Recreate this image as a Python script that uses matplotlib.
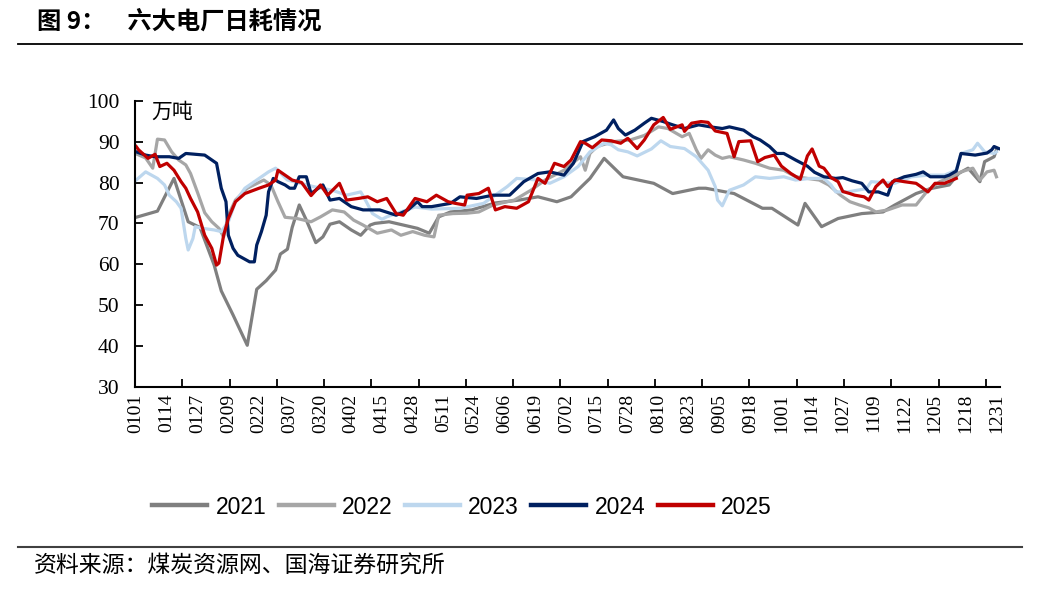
import matplotlib
matplotlib.use('Agg')
import matplotlib.pyplot as plt
from matplotlib.lines import Line2D

plt.rcParams['font.family'] = ['Liberation Serif', 'Noto Sans CJK SC', 'DejaVu Sans']

# ---------------- data (day index from Jan 1, value in 万吨) ----------------
tick_labels = ['0101', '0114', '0127', '0209', '0222', '0307', '0320', '0402', '0415',
               '0428', '0511', '0524', '0606', '0619', '0702', '0715', '0728', '0810',
               '0823', '0905', '0918', '1001', '1014', '1027', '1109', '1122', '1205',
               '1218', '1231']

d2021 = [0, 9, 16, 22, 27, 33, 36, 41, 47, 51, 55, 59, 61, 64, 66, 69, 72, 76, 79, 82,
         86, 91, 95, 99, 101, 107, 113, 119, 124, 128, 133, 142, 152, 162, 170, 178, 184,
         192, 198, 206, 219, 227, 238, 241, 253, 265, 269, 280, 283, 290, 297, 307, 316,
         321, 330, 336, 344, 348, 352, 357, 359, 363, 364]
v2021 = [71.5, 73, 81, 70.4, 69, 59.8, 53.5, 47.6, 40.2, 53.9, 56, 58.6, 62.5, 63.7, 69,
         74.5, 70.8, 65.3, 66.7, 69.8, 70.4, 68.4, 67.1, 69.6, 70, 70.4, 69.6, 68.8, 67.6,
         71.6, 72.8, 73.3, 75, 75.7, 76.5, 75.3, 76.5, 81, 85.9, 81.4, 79.8, 77.3, 78.6,
         78.6, 77.3, 73.7, 73.7, 69.6, 74.9, 69.2, 71.2, 72.4, 72.8, 74.5, 77.3, 78.5,
         79.4, 82.2, 83.5, 80.2, 85.1, 86.3, 88]

d2022 = [0, 4, 7, 9, 12, 15, 18, 21, 23, 26, 29, 32, 35, 37, 39, 42, 47, 54, 57, 60, 63,
         68, 74, 78, 83, 88, 92, 96, 102, 108, 112, 117, 122, 126, 128, 134, 140, 145, 151,
         160, 167, 173, 181, 188, 190, 192, 195, 202, 209, 215, 221, 225, 231, 234, 237,
         239, 242, 245, 248, 251, 257, 262, 268, 274, 279, 284, 289, 293, 298, 302, 306,
         310, 313, 318, 324, 330, 335, 340, 345, 349, 354, 357, 360, 363, 364]
v2022 = [87, 86, 83.5, 90.6, 90.4, 87.5, 85.5, 84.3, 82.2, 77.5, 72.6, 70.4, 68.8, 66.7,
         72, 75.7, 78.6, 80.6, 79.4, 75.3, 71.5, 71.2, 70.4, 71.6, 73.3, 72.8, 70.8, 69.6,
         67.6, 68.4, 67.1, 68, 67.1, 66.7, 72, 72.4, 72.5, 72.8, 74.5, 75.7, 78.1, 80.6,
         83, 86.3, 83, 87.1, 88.8, 90, 90.4, 91.5, 93.6, 93.2, 91.2, 92, 88, 85.9, 88,
         86.7, 85.9, 86.3, 85.5, 84.7, 83.5, 83, 81.4, 81, 80.6, 79.4, 76.9, 75.3, 74.5,
         73.8, 72.8, 73.3, 74.5, 74.5, 78.1, 80.2, 81.4, 82.6, 83.5, 80.6, 82.6, 83, 81.4]

d2023 = [0, 4, 9, 12, 14, 17, 19, 21, 22, 24, 25, 28, 33, 36, 39, 42, 46, 50, 56, 59, 64,
         75, 83, 89, 92, 95, 97, 100, 104, 106, 110, 118, 125, 137, 147, 157, 161, 170,
         175, 181, 187, 192, 198, 201, 204, 208, 212, 218, 222, 226, 232, 237, 242, 245,
         246, 248, 251, 257, 262, 268, 274, 279, 285, 291, 294, 296, 301, 305, 309, 311,
         321, 328, 335, 342, 347, 349, 354, 356, 359, 363, 364]
v2023 = [80.6, 82.6, 81, 79.4, 76.9, 75.3, 73.7, 66.3, 63.5, 66.3, 69.2, 68.8, 68.4, 68,
         70.4, 75.3, 78.6, 80.2, 82.6, 83.5, 80.6, 79, 78.1, 76.9, 77.3, 77.7, 75.7, 72.4,
         71, 71.6, 72.4, 74, 73.5, 73.7, 74.9, 79, 81, 80.6, 79.8, 81.4, 83.9, 87.5, 89.6,
         89.2, 88, 87.5, 86.5, 88.2, 90.2, 88.8, 88.3, 86.3, 83, 79, 75.7, 74.3, 78.1,
         79.4, 81.4, 81, 81.4, 80.6, 81, 81, 79.4, 77.7, 77.7, 78.1, 78.5, 80.2, 79.8,
         81.4, 81.8, 81.8, 83, 87.1, 88, 89.6, 87.5, 87.1, 87.5]

d2024 = [0, 4, 8, 14, 18, 21, 25, 29, 33, 34, 36, 38, 39, 41, 43, 48, 50, 51, 53, 55, 56,
         58, 60, 63, 65, 67, 69, 72, 74, 79, 82, 86, 91, 96, 103, 110, 115, 119, 121, 125,
         133, 137, 144, 151, 158, 164, 170, 175, 181, 185, 189, 194, 199, 202, 204, 207,
         211, 215, 218, 223, 227, 232, 238, 243, 248, 251, 257, 261, 264, 268, 271, 274,
         279, 284, 287, 291, 296, 299, 303, 307, 310, 314, 318, 320, 325, 330, 333, 336,
         342, 344, 347, 349, 355, 360, 362, 363, 365]
v2024 = [87.5, 86.7, 86.3, 86.3, 85.9, 87.1, 86.9, 86.7, 85.1, 84.7, 78.6, 75.3, 67.1,
         63.9, 62.2, 60.6, 60.6, 64.7, 68, 72, 77.7, 81, 80.2, 79.4, 78.6, 78.6, 81.4, 81.4,
         77.3, 79.4, 75.7, 76.1, 74.1, 73.3, 73.3, 72, 73.3, 75.3, 74.1, 74.1, 74.9, 76.5,
         76.1, 76.9, 76.9, 80.2, 82.2, 82.6, 81.8, 84.7, 90, 91.2, 92.8, 95.3, 93.2, 91.6,
         92.8, 94.5, 95.7, 94.9, 94.1, 93.2, 94.1, 93.6, 93.2, 93.6, 92.8, 91.2, 90.4, 88.8,
         87.1, 87.1, 85.5, 84, 82.5, 81.4, 81, 81.2, 80.4, 79.8, 77.7, 77.7, 76.9, 80.2,
         81.4, 82, 82.6, 81.4, 81.4, 81.8, 82.8, 87.1, 86.7, 87.2, 88, 88.8, 88.3]

d2025 = [0, 1, 5, 8, 10, 13, 16, 19, 21, 23, 26, 29, 32, 34, 35, 37, 39, 42, 46, 52, 56,
         59, 60, 63, 66, 70, 74, 78, 81, 86, 89, 94, 98, 102, 106, 110, 113, 118, 123, 127,
         132, 135, 139, 140, 145, 149, 152, 156, 161, 166, 170, 173, 177, 181, 184, 188,
         190, 193, 197, 201, 205, 208, 212, 215, 219, 223, 226, 231, 232, 235, 239, 242,
         245, 250, 253, 255, 260, 263, 266, 270, 273, 277, 281, 284, 286, 289, 291, 294,
         297, 299, 302, 304, 308, 310, 313, 316, 318, 321, 325, 330, 332, 335, 338, 342, 347]
v2025 = [88.8, 88, 85.9, 86.9, 83.9, 84.7, 83, 80.2, 78.6, 76.1, 72.8, 67.1, 63.9, 59.8,
         60.3, 67.1, 71.2, 75.3, 77.3, 78.6, 79.4, 80.6, 83, 81.8, 80.6, 80, 76.8, 79.4,
         76.9, 79.8, 75.7, 76.1, 76.5, 75.3, 76.1, 72.4, 72, 76.1, 75.3, 76.9, 75.3, 74.9,
         74.5, 76.9, 77.3, 78.6, 73.3, 74.1, 73.7, 75.3, 81, 79.8, 84.7, 83.9, 85.5, 90,
         89.6, 88.5, 90.4, 90.2, 89.6, 90.8, 88.3, 90.4, 94.1, 95.9, 93, 94.1, 92.5, 94.5,
         94.9, 94.7, 92.6, 92, 86.3, 90, 90.2, 85.1, 86.1, 86.7, 84, 82.2, 80.8, 86.5, 88.2,
         84, 83.5, 81.2, 80.2, 77.8, 77.3, 76.9, 76.5, 75.7, 79, 80.6, 79, 80.6, 80.2, 79.8,
         79, 77.7, 79.8, 79.8, 81]

series = [('2021', d2021, v2021, '#7f7f7f'),
          ('2022', d2022, v2022, '#a6a6a6'),
          ('2023', d2023, v2023, '#bdd7ee'),
          ('2024', d2024, v2024, '#002060'),
          ('2025', d2025, v2025, '#c00000')]

# ---------------- figure ----------------
W, H = 1048, 596
fig = plt.figure(figsize=(W / 100, H / 100), dpi=100)
ax = fig.add_axes([135 / W, 1 - 387 / H, (1000 - 135) / W, (387 - 100.7) / H])

for name, d, v, c in series:
    ax.plot(d, v, color=c, lw=2.3, solid_joinstyle='round', label=name)

ax.set_xlim(-0.5, 365.5)
ax.set_ylim(30, 100)

for s in ['top', 'right']:
    ax.spines[s].set_visible(False)
for s in ['left', 'bottom']:
    ax.spines[s].set_linewidth(1.5)
    ax.spines[s].set_color('black')

ax.set_yticks(range(30, 101, 10))
ax.tick_params(axis='y', direction='in', length=6, width=1.3, pad=11, labelsize=15.5)
for t in ax.get_yticklabels():
    t.set_fontfamily('Liberation Serif')

label_pos = [13 * i for i in range(len(tick_labels))]
ax.set_xticks(label_pos)
ax.set_xticklabels(tick_labels, rotation=90, fontsize=14, fontfamily='Liberation Serif')
ax.tick_params(axis='x', which='major', length=0, pad=5)
ax.set_xticks([-0.5 + 20 * k for k in range(19)], minor=True)
ax.tick_params(axis='x', which='minor', direction='in', length=6, width=1.3)

ax.text(0.019, 0.962, '万吨', transform=ax.transAxes, fontsize=15,
        family=['Noto Sans CJK SC'], va='center', ha='left')

handles = [Line2D([], [], color=c, lw=3.2) for _, _, _, c in series]
labels = [n for n, _, _, _ in series]
fig.legend(handles, labels, loc='center', bbox_to_anchor=(462 / W, 1 - 507 / H),
           bbox_transform=fig.transFigure, ncol=5, frameon=False,
           handlelength=2.4, handletextpad=0.35, columnspacing=0.55,
           prop={'family': ['Liberation Sans', 'DejaVu Sans'], 'size': 16.5})

# title, rules, source
fig.text(37 / W, 1 - 22 / H, '图 9：    六大电厂日耗情况', fontsize=17.5, fontweight='bold',
         family=['Noto Sans CJK SC', 'DejaVu Sans'], va='center', ha='left')
fig.add_artist(Line2D([18 / W, 1022 / W], [1 - 44 / H] * 2, color='black', lw=1.3,
                      transform=fig.transFigure))
fig.add_artist(Line2D([18 / W, 1022 / W], [1 - 547 / H] * 2, color='#404040', lw=1.5,
                      transform=fig.transFigure))
fig.text(34 / W, 1 - 566 / H, '资料来源：煤炭资源网、国海证券研究所', fontsize=16.5,
         family=['Noto Sans CJK SC', 'DejaVu Sans'], va='center', ha='left')

fig.savefig('out.png', dpi=100)
